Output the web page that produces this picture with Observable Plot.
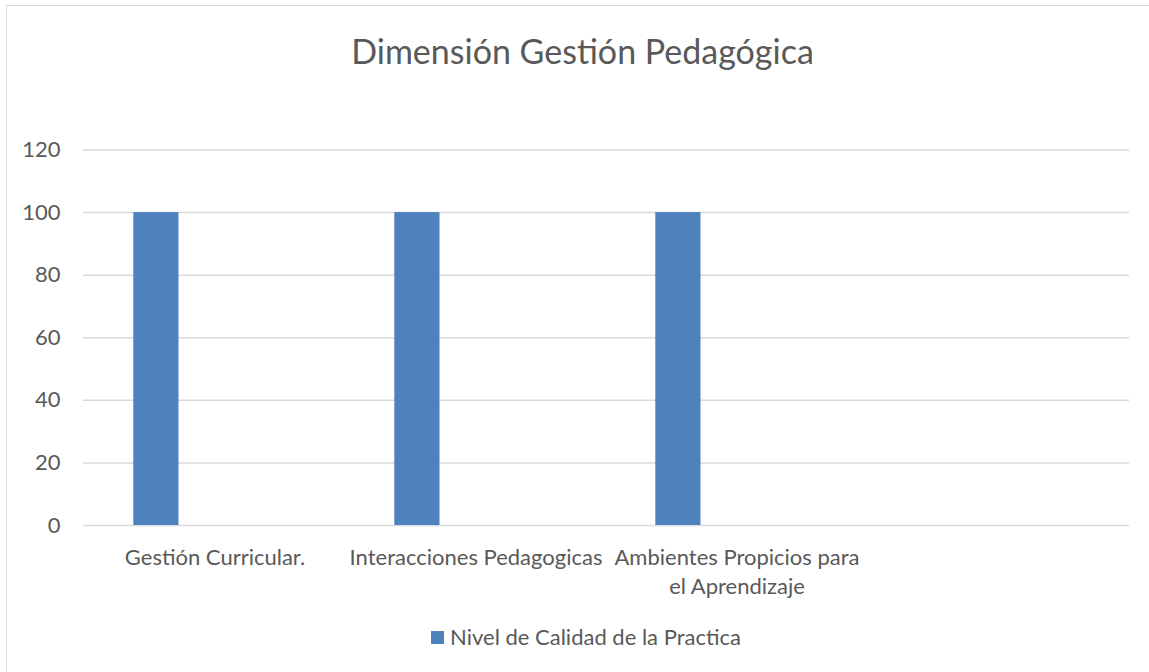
<!DOCTYPE html>
<html>
<head>
<meta charset="utf-8">
<script src="https://cdn.jsdelivr.net/npm/d3@7"></script>
<script src="https://cdn.jsdelivr.net/npm/@observablehq/plot@0.6"></script>
<style>
  html, body { margin: 0; padding: 0; background: #fff; width: 1149px; height: 672px; overflow: hidden; }
  body { position: relative; font-family: Lato, "Open Sans", sans-serif; color: #595959; }
  #frame { position: absolute; left: 6px; top: 5px; width: 1160px; height: 700px; border: 1.5px solid #d9d9d9; box-sizing: border-box; }
  #title { position: absolute; left: 0; top: 29px; width: 1165px; text-align: center; font-size: 34px; line-height: 44px; color: #595959; }
  #chart { position: absolute; left: 0; top: 100px; }
  #legend { position: absolute; left: 0; top: 623px; width: 1172px; text-align: center; font-size: 22px; line-height: 28px; color: #595959; }
  #legend .sw { display: inline-block; width: 13px; height: 13px; background: #4f81bd; margin-right: 6px; vertical-align: 1px; }
</style>
</head>
<body>
<div id="frame"></div>
<div id="title">Dimensión Gestión Pedagógica</div>
<div id="chart"></div>
<div id="legend"><span class="sw"></span>Nivel de Calidad de la Practica</div>
<script>
const categories = ["Gestión Curricular.", "Interacciones Pedagogicas", "Ambientes Propicios para el Aprendizaje", ""];
const tickLabels = ["Gestión Curricular.", "Interacciones Pedagogicas", "Ambientes Propicios para\nel Aprendizaje", ""];
const values = [100, 100, 100];
const seriesName = "Nivel de Calidad de la Practica";
const yTicks = [0, 20, 40, 60, 80, 100, 120];

const data = values.map((v, i) => ({category: categories[i], value: v, series: seriesName}));

const chart = Plot.plot({
  width: 1149,
  height: 520,
  marginLeft: 83,
  marginRight: 20,
  marginTop: 49.5,
  marginBottom: 95,
  style: {fontFamily: "Lato, 'Open Sans', sans-serif", fontSize: "22px", color: "#595959", background: "transparent"},
  x: {domain: categories, padding: 0, axis: null},
  y: {domain: [0, 120], axis: null},
  marks: [
    Plot.gridY(yTicks, {stroke: "#d9d9d9", strokeOpacity: 1, strokeWidth: 1.5}),
    Plot.barY(data, {x: "category", y: "value", fill: "#4f81bd", insetLeft: 49.3, insetRight: 166.5}),
    Plot.axisY(yTicks, {tickSize: 0, tickPadding: 23, fontSize: 22, fill: "#595959", label: null}),
    Plot.axisX(categories, {tickSize: 0, tickPadding: 18, fontSize: 22, fill: "#595959", label: null, lineHeight: 1.35,
      tickFormat: (d) => tickLabels[categories.indexOf(d)]})
  ]
});
document.getElementById("chart").appendChild(chart);
</script>
</body>
</html>
